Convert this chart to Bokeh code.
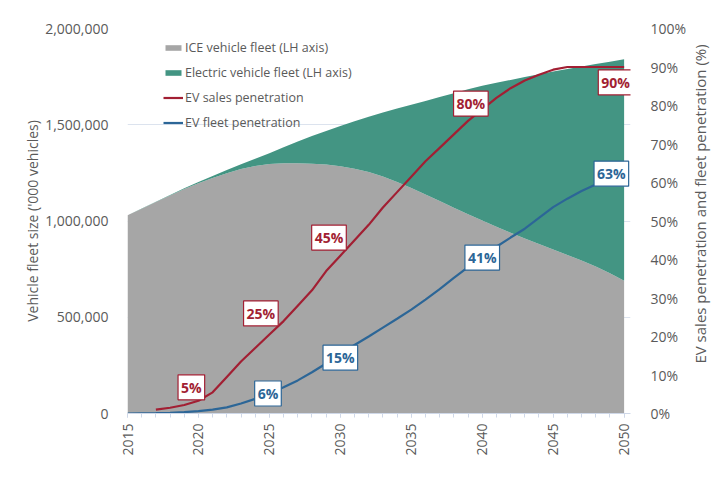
import math
from bokeh.plotting import figure
from bokeh.layouts import row
from bokeh.models import (Range1d, LinearAxis, FixedTicker, NumeralTickFormatter,
                          PrintfTickFormatter, Legend, LegendItem, Label)
from bokeh.core.properties import value
from bokeh.embed import file_html
from bokeh.resources import INLINE

# ---------------- data ----------------
years = list(range(2015, 2051))
total_fleet = [1030000, 1065000, 1100000, 1135000, 1170000, 1203000, 1234000, 1265000,
               1295000, 1324000, 1352000, 1383000, 1413000, 1441000, 1468000, 1494000,
               1518000, 1541000, 1563000, 1584000, 1604000, 1624000, 1644000, 1664000,
               1684000, 1702000, 1718000, 1733000, 1748000, 1762000, 1776000, 1790000,
               1803000, 1815000, 1827000, 1840000]
ice_fleet = [1030000, 1064000, 1099000, 1133000, 1166000, 1196000, 1223000, 1248000,
             1270000, 1286000, 1296000, 1300000, 1300000, 1298000, 1293000, 1285000,
             1272000, 1255000, 1231000, 1203000, 1171000, 1138000, 1104000, 1069000,
             1035000, 1002000, 970000, 939000, 909000, 880000, 852000, 824000,
             795000, 764000, 729000, 690000]
ev_fleet = [t - i for t, i in zip(total_fleet, ice_fleet)]
stack_top = [i + e for i, e in zip(ice_fleet, ev_fleet)]

sales_years = list(range(2017, 2051))
ev_sales_pen = [1.0, 1.5, 2.2, 3.3, 5.5, 9.5, 13.5, 17.0, 20.5, 24.0, 28.0, 32.0, 37.0,
                41.0, 45.0, 49.0, 53.5, 57.5, 61.5, 65.5, 69.0, 72.5, 76.0, 79.0, 82.0,
                84.5, 86.5, 88.0, 89.3, 90.0, 90.0, 90.0, 90.0, 90.0]
ev_fleet_pen = [0.0, 0.05, 0.1, 0.2, 0.35, 0.6, 1.0, 1.6, 2.6, 3.8, 5.2, 6.8, 8.6, 10.7,
                13.0, 15.5, 17.8, 20.0, 22.3, 24.6, 27.0, 29.6, 32.3, 35.2, 38.0, 40.8,
                43.3, 45.7, 48.0, 50.8, 53.6, 55.8, 57.8, 59.5, 61.0, 62.5]

sales_labels = ["5%", "25%", "45%", "80%", "90%"]
sales_label_x = [2019.5, 2024.4, 2029.2, 2039.2, 2049.4]
sales_label_y = [6.8, 26.0, 45.7, 80.5, 86.0]
fleet_labels = ["6%", "15%", "41%", "63%"]
fleet_label_x = [2024.9, 2030.0, 2040.0, 2049.1]
fleet_label_y = [5.2, 14.5, 40.5, 62.3]

left_ticks = [0, 500000, 1000000, 1500000, 2000000]
right_ticks = list(range(0, 101, 10))
x_ticks = list(range(2015, 2051, 5))

left_title = "Vehicle fleet size ('000 vehicles)"
right_title = "EV sales penetration and fleet penetration (%)"

# ---------------- style ----------------
FONT = "Open Sans"
GREY = "#A6A6A6"
TEAL = "#439583"
RED = "#A21F33"
BLUE = "#2C6697"
TXT = "#5A5A5A"
H = 485

p = figure(width=689, height=H, output_backend="svg", toolbar_location=None,
           x_range=Range1d(2015, 2050.45), y_range=Range1d(0, 2000000),
           min_border_left=127, min_border_right=52, min_border_top=28,
           min_border_bottom=72)
p.outline_line_color = None
p.background_fill_color = "white"
p.extra_y_ranges = {"pct": Range1d(0, 100)}

r_ice = p.varea(x=years, y1=[0] * len(years), y2=ice_fleet, fill_color=GREY)
r_ev = p.varea(x=years, y1=ice_fleet, y2=stack_top, fill_color=TEAL)
r_sales = p.line(x=sales_years, y=ev_sales_pen, line_color=RED, line_width=2.2,
                 y_range_name="pct")
r_fpen = p.line(x=years, y=ev_fleet_pen, line_color=BLUE, line_width=2.2,
                y_range_name="pct")

# axes
xa = p.xaxis[0]
xa.ticker = FixedTicker(ticks=x_ticks, minor_ticks=years)
xa.major_label_orientation = math.pi / 2
xa.axis_line_color = "#CFD8E8"
xa.major_tick_line_color = "#CFD8E8"
xa.minor_tick_line_color = "#CFD8E8"
xa.major_tick_in = 0
xa.major_tick_out = 4
xa.minor_tick_in = 0
xa.minor_tick_out = 4
xa.major_label_standoff = 6
xa.major_label_text_font = FONT
xa.major_label_text_font_size = "14px"
xa.major_label_text_color = TXT

ya = p.yaxis[0]
ya.ticker = FixedTicker(ticks=left_ticks)
ya.formatter = NumeralTickFormatter(format="0,0")
ya.axis_line_color = None
ya.major_tick_line_color = None
ya.minor_tick_line_color = None
ya.major_label_standoff = 13
ya.major_label_text_font = FONT
ya.major_label_text_font_size = "14px"
ya.major_label_text_color = TXT
ya.axis_label = left_title
ya.axis_label_standoff = 0
ya.axis_label_text_font = FONT
ya.axis_label_text_font_style = "normal"
ya.axis_label_text_font_size = "14px"
ya.axis_label_text_color = TXT

ra = LinearAxis(y_range_name="pct", ticker=FixedTicker(ticks=right_ticks),
                formatter=PrintfTickFormatter(format="%d%%"))
ra.axis_line_color = None
ra.major_tick_line_color = None
ra.minor_tick_line_color = None
ra.major_label_standoff = 14
ra.major_label_text_font = FONT
ra.major_label_text_font_size = "14px"
ra.major_label_text_color = TXT
p.add_layout(ra, "right")

p.xgrid.grid_line_color = None
p.ygrid.ticker = FixedTicker(ticks=left_ticks)
p.ygrid.grid_line_color = "#DCE3EE"
p.ygrid.grid_line_width = 1

# boxed value labels
for txt, x, y in zip(sales_labels, sales_label_x, sales_label_y):
    p.add_layout(Label(x=x, y=y, y_range_name="pct", text=txt, text_align="center",
                       text_baseline="middle", text_font=FONT, text_font_style="bold",
                       text_font_size="14px", text_color=RED,
                       background_fill_color="white", border_line_color=RED,
                       border_line_width=1.2, padding=3))
for txt, x, y in zip(fleet_labels, fleet_label_x, fleet_label_y):
    p.add_layout(Label(x=x, y=y, y_range_name="pct", text=txt, text_align="center",
                       text_baseline="middle", text_font=FONT, text_font_style="bold",
                       text_font_size="14px", text_color=BLUE,
                       background_fill_color="white", border_line_color=BLUE,
                       border_line_width=1.2, padding=3))

legend = Legend(items=[
    LegendItem(label="ICE vehicle fleet (LH axis)", renderers=[r_ice]),
    LegendItem(label="Electric vehicle fleet (LH axis)", renderers=[r_ev]),
    LegendItem(label="EV sales penetration", renderers=[r_sales]),
    LegendItem(label="EV fleet penetration", renderers=[r_fpen]),
], location=(36, 282), orientation="vertical")
legend.glyph_width = 20
legend.glyph_height = 7
legend.label_height = 15
legend.spacing = 8
legend.padding = 0
legend.margin = 0
legend.label_standoff = 2
legend.border_line_color = None
legend.background_fill_alpha = 0
legend.label_text_font = FONT
legend.label_text_font_size = "12.5px"
legend.label_text_color = TXT
p.add_layout(legend, "center")

# narrow strip carrying the right-hand axis title (reads bottom-to-top)
t = figure(width=26, height=H, output_backend="svg", toolbar_location=None,
           x_range=Range1d(0, 26), y_range=Range1d(0, H),
           x_axis_type=None, y_axis_type=None, min_border=0)
t.outline_line_color = None
t.background_fill_color = "white"
t.text(x=[10], y=[H - 221], text=[right_title], angle=math.pi / 2,
       text_align="center", text_baseline="middle", text_font=value(FONT),
       text_font_size="15px", text_color=TXT)

layout = row(p, t)
open("out.html", "w").write(file_html(layout, INLINE))
